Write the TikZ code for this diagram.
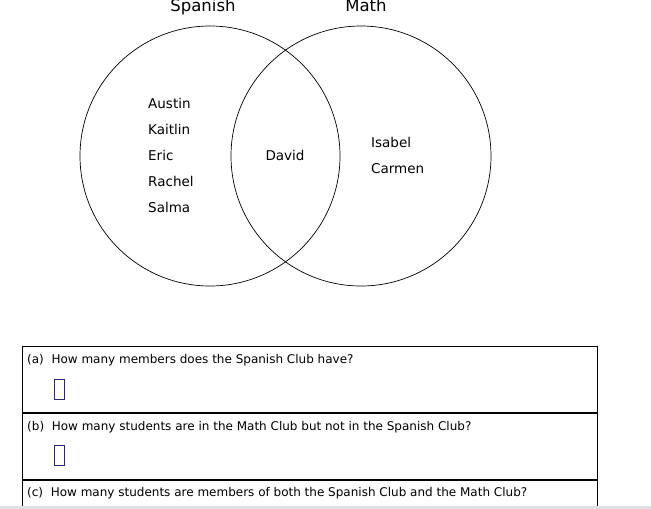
\documentclass[tikz,border=0pt]{standalone}
\usepackage{fontspec}
\setmainfont{DejaVu Sans}
\usepackage{tikz}
\usetikzlibrary{positioning}
\definecolor{boxnavy}{HTML}{2B2B6B}
\definecolor{stripgray}{HTML}{DDE0E4}

\begin{document}
\begin{tikzpicture}[
  x=1pt, y=-1pt,
  club/.style={circle, draw, line width=0.7pt, minimum size=260pt, inner sep=0pt},
  clubname/.style={font=\fontsize{16.5}{18}\selectfont, anchor=base},
  member/.style={font=\fontsize{13.5}{15}\selectfont, inner sep=0pt},
  row/.style={draw, line width=0.8pt, minimum width=575pt, minimum height=66pt, inner sep=0pt},
  question/.style={font=\fontsize{12}{14}\selectfont, anchor=west, inner sep=0pt},
  answer/.style={draw=boxnavy, line width=0.8pt, minimum width=10pt, minimum height=20pt, inner sep=0pt}
]
\useasboundingbox (0,0) rectangle (651,509);
% --- circles ---
\node[club] (spanish) at (210,156) {};
\node[club] (math) at (361,156) {};
\node[clubname] (spanishlbl) at (203,11) {Spanish};
\node[clubname] (mathlbl) at (366,11) {Math};
% --- Spanish only ---
\node[member, anchor=base west] (austin) at (148,108) {Austin};
\node[member, below=26pt of austin.base west, anchor=base west] (kaitlin) {Kaitlin};
\node[member, below=26pt of kaitlin.base west, anchor=base west] (eric) {Eric};
\node[member, below=26pt of eric.base west, anchor=base west] (rachel) {Rachel};
\node[member, below=26pt of rachel.base west, anchor=base west] (salma) {Salma};
% --- both ---
\node[member, anchor=base] (david) at (285,160) {David};
% --- Math only ---
\node[member, anchor=base west] (isabel) at (371,147) {Isabel};
\node[member, below=26pt of isabel.base west, anchor=base west] (carmen) {Carmen};
% --- questions ---
\node[row, anchor=north west] (rowa) at (22,346) {};
\node[row, below=0pt of rowa] (rowb) {};
\node[row, below=0pt of rowb] (rowc) {};
\node[question] (qa) at ([xshift=5pt, yshift=-14pt]rowa.north west) {(a)\ \ How many members does the Spanish Club have?};
\node[question] (qb) at ([xshift=5pt, yshift=-14pt]rowb.north west) {(b)\ \ How many students are in the Math Club but not in the Spanish Club?};
\node[question] (qc) at ([xshift=5pt, yshift=-14pt]rowc.north west) {(c)\ \ How many students are members of both the Spanish Club and the Math Club?};
\node[answer] (ansa) at ([xshift=37pt, yshift=-43pt]rowa.north west) {};
\node[answer] (ansb) at ([xshift=37pt, yshift=-43pt]rowb.north west) {};
\fill[stripgray] (0,506) rectangle (651,509);
\end{tikzpicture}
\end{document}
